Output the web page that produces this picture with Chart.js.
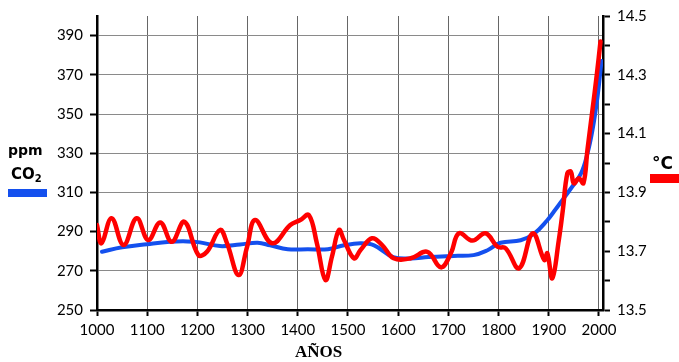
<!DOCTYPE html>
<html>
<head>
<meta charset="utf-8">
<script src="https://cdn.jsdelivr.net/npm/chart.js@4.4.1/dist/chart.umd.min.js"></script>
<style>
html,body{margin:0;padding:0;background:#fff;}
#wrap{position:relative;width:679px;height:362px;overflow:hidden;}
.lbl{position:absolute;color:#000;white-space:nowrap;}
</style>
</head>
<body>
<div id="wrap">
<canvas id="c" width="679" height="362"></canvas>
<div class="lbl" style="left:8px;top:142px;font:bold 14px 'DejaVu Sans';">ppm</div>
<div class="lbl" style="left:11px;top:165px;font:bold 15px 'DejaVu Sans';">CO<sub style="font-size:10px;vertical-align:-3px;">2</sub></div>
<div style="position:absolute;left:8px;top:189px;width:39px;height:8px;background:#1450ee;"></div>
<div class="lbl" style="left:652px;top:153px;font:bold 17px 'DejaVu Sans';">°C</div>
<div style="position:absolute;left:650px;top:174px;width:29px;height:9px;background:#ff0000;"></div>
<div class="lbl" style="left:295px;top:342px;font:bold 17px 'Liberation Serif';">AÑOS</div>
</div>
<script>
const co2Years = [1010,1050,1100,1145,1180,1205,1245,1285,1320,1345,1380,1420,1460,1492,1525,1552,1590,1625,1660,1710,1750,1778,1804,1844,1871,1897,1911,1924,1944,1964,1977,1987,1997,2005];
const co2Values = [279.7,282,283.6,284.8,285,284.5,282.6,283.4,284.3,283,281,281,281,283,284,283,277,276.3,277,277.6,278,280.5,284.3,285.6,289,295.8,300.5,305,312,319.6,329.8,341.7,358.6,377];

const tempYears = [1000,1009,1029,1053,1079,1102,1126,1149,1174,1202,1219,1245,1259,1282,1299,1315,1349,1385,1405,1422,1438,1455,1468,1482,1492,1512,1525,1548,1568,1591,1625,1658,1685,1705,1721,1748,1774,1798,1814,1841,1868,1891,1897,1907,1920,1928,1937,1944,1950,1960,1969,1977,1987,1996,2003];
const tempValues = [13.789,13.727,13.812,13.721,13.812,13.738,13.798,13.732,13.800,13.687,13.698,13.772,13.727,13.619,13.715,13.806,13.727,13.789,13.806,13.823,13.727,13.602,13.681,13.772,13.738,13.676,13.704,13.744,13.721,13.676,13.676,13.698,13.645,13.693,13.761,13.736,13.761,13.715,13.710,13.642,13.761,13.670,13.693,13.608,13.738,13.840,13.965,13.970,13.931,13.948,13.931,14.044,14.180,14.305,14.413];

const ppmTickLabels = [250,270,290,310,330,350,370,390];
const degTickLabels = ['13.5','13.7','13.9','14.1','14.3','14.5'];
const yearTickLabels = [1000,1100,1200,1300,1400,1500,1600,1700,1800,1900,2000];

const co2Data = co2Years.map((x,i)=>({x:x,y:co2Values[i]}));
const tempData = tempYears.map((x,i)=>({x:x,y:tempValues[i]}));

const tickFont = {family:'Lato', size:15};

new Chart(document.getElementById('c'), {
  type:'line',
  data:{
    datasets:[
      {label:'°C', data:tempData, yAxisID:'y2', borderColor:'#ff0000', borderWidth:4.5, pointRadius:0, tension:0.4, order:0, borderCapStyle:'round', borderJoinStyle:'round'},
      {label:'CO2', data:co2Data, yAxisID:'y', borderColor:'#1450ee', borderWidth:4, pointRadius:0, tension:0.4, order:1, borderCapStyle:'round', borderJoinStyle:'round'}
    ]
  },
  options:{
    responsive:false,
    animation:false,
    layout:{padding:{top:16,left:0,right:0,bottom:0}},
    plugins:{legend:{display:false}, tooltip:{enabled:false}},
    scales:{
      x:{
        type:'linear', min:1000, max:2008,
        afterFit:s=>{s.height=52;},
        afterBuildTicks:s=>{s.ticks = yearTickLabels.map(v=>({value:v}));},
        ticks:{font:tickFont, color:'#000', padding:5, maxRotation:0, callback:v=>String(v)},
        grid:{color:'#666', lineWidth:1, tickLength:6, tickColor:'#000', tickWidth:2},
        border:{color:'#000', width:2.5}
      },
      y:{
        position:'left', min:250, max:400,
        afterFit:s=>{s.width=97;},
        afterBuildTicks:s=>{const t=[];for(let v=250;v<=400;v+=10)t.push({value:v});s.ticks=t;},
        ticks:{font:tickFont, color:'#000', padding:7, callback:v=>ppmTickLabels.includes(v)?String(v):''},
        grid:{color:'#8a8a8a', lineWidth:1, tickLength:7, tickColor:'#000', tickWidth:2},
        border:{color:'#000', width:2.5}
      },
      y2:{
        position:'right', min:13.5, max:14.5,
        afterFit:s=>{s.width=76;},
        afterBuildTicks:s=>{const t=[];for(let i=0;i<=10;i++)t.push({value:13.5+i*0.1});s.ticks=t;},
        ticks:{font:tickFont, color:'#000', padding:7, callback:v=>{const l=v.toFixed(1);return degTickLabels.includes(l)?l:'';}},
        grid:{drawOnChartArea:false, tickLength:7, tickColor:'#000', tickWidth:2},
        border:{color:'#000', width:2.5}
      }
    }
  }
});
</script>
</body>
</html>
